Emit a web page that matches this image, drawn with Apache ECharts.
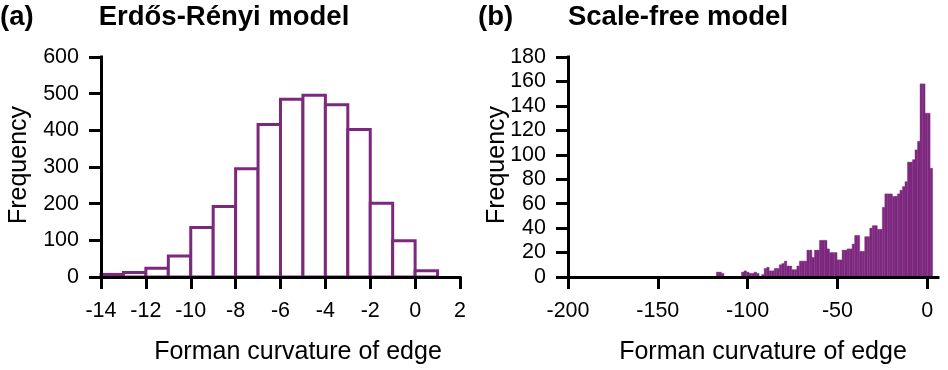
<!DOCTYPE html>
<html>
<head>
<meta charset="utf-8">
<script src="https://cdn.jsdelivr.net/npm/echarts@6/dist/echarts.min.js"></script>
<style>
  html, body { margin: 0; padding: 0; background: #fff; }
  #chart { width: 948px; height: 370px; }
</style>
</head>
<body>
<div id="chart"></div>
<script>
// (a) Erdős-Rényi model: histogram with unit-width bins
const erBinLeft = [-14, -13, -12, -11, -10, -9, -8, -7, -6, -5, -4, -3, -2, -1, 0];
const erBinWidth = 1;
const erCounts = [7, 12, 24, 57, 135, 192, 295, 416, 485, 496, 470, 402, 201, 99, 17];
const erXTicks = [-14, -12, -10, -8, -6, -4, -2, 0, 2];
const erYTicks = [0, 100, 200, 300, 400, 500, 600];

// (b) Scale-free model: histogram, bins start at sfBinStart, each sfBinWidth wide
const sfBinStart = -117.4;
const sfBinWidth = 1.4;
const sfCounts = [
  4, 4, 3, 0, 0, 0, 0, 0, 0, 0,
  4, 5, 4, 3, 3, 4, 3, 0, 2, 7,
  8, 5, 5, 7, 7, 10, 11, 13, 9, 9,
  6, 6, 9, 13, 13, 13, 22, 22, 16, 22,
  22, 30, 30, 30, 23, 20, 20, 20, 14, 14,
  22, 22, 23, 23, 27, 34, 34, 21, 21, 33,
  33, 40, 42, 42, 39, 39, 57, 68, 68, 68,
  66, 66, 68, 71, 74, 78, 94, 94, 96, 104,
  111, 158, 158, 134, 134, 89
];
const sfXTicks = [-200, -150, -100, -50, 0];
const sfYTicks = [0, 20, 40, 60, 80, 100, 120, 140, 160, 180];

const PURPLE = '#7d287f';
const FONT = '"Liberation Sans", Arial, Helvetica, sans-serif';

const erData = erBinLeft.map((l, i) => [l, l + erBinWidth, erCounts[i]]);
const sfData = sfCounts.map((c, i) => {
  const l = sfBinStart + i * sfBinWidth;
  return [l, l + sfBinWidth, c];
});

function histRender(style) {
  return function (params, api) {
    const top = api.coord([api.value(0), api.value(2)]);
    const bottom = api.coord([api.value(1), 0]);
    return {
      type: 'rect',
      shape: { x: top[0], y: top[1], width: bottom[0] - top[0], height: bottom[1] - top[1] },
      style: style
    };
  };
}

function axisCommon(ticks) {
  return {
    type: 'value',
    z: 10,
    axisLine: { show: true, onZero: false, lineStyle: { color: '#000', width: 3, cap: 'square' } },
    axisTick: { show: true, length: 12, customValues: ticks, lineStyle: { color: '#000', width: 3 } },
    axisLabel: { customValues: ticks, color: '#000', fontSize: 21.5, fontFamily: FONT },
    splitLine: { show: false }
  };
}

function xAxisOf(grid, min, max, interval, ticks) {
  const a = axisCommon(ticks);
  a.gridIndex = grid; a.min = min; a.max = max; a.interval = interval;
  a.axisLabel.margin = 23;
  return a;
}
function yAxisOf(grid, min, max, interval, ticks) {
  const a = axisCommon(ticks);
  a.gridIndex = grid; a.min = min; a.max = max; a.interval = interval;
  a.axisLabel.margin = 22;
  return a;
}

function label(text, x, y, size, bold, align, rotation) {
  return {
    type: 'text', x: x, y: y, rotation: rotation || 0, z: 20,
    style: {
      text: text, fill: '#000', align: align, verticalAlign: 'middle',
      fontSize: size, fontWeight: bold ? 'bold' : 'normal', fontFamily: FONT
    }
  };
}

const chart = echarts.init(document.getElementById('chart'), null, { renderer: 'canvas' });
chart.setOption({
  animation: false,
  backgroundColor: '#fff',
  grid: [
    { left: 101, top: 57, width: 359, height: 220 },
    { left: 568, top: 57, width: 370, height: 220 }
  ],
  xAxis: [
    xAxisOf(0, -14, 2, 2, erXTicks),
    xAxisOf(1, -200, 6, 50, sfXTicks)
  ],
  yAxis: [
    yAxisOf(0, 0, 600, 100, erYTicks),
    yAxisOf(1, 0, 180, 20, sfYTicks)
  ],
  series: [
    {
      type: 'custom', xAxisIndex: 0, yAxisIndex: 0, z: 2,
      encode: { x: [0, 1], y: 2 },
      renderItem: histRender({ fill: '#fff', stroke: PURPLE, lineWidth: 3 }),
      data: erData
    },
    {
      type: 'custom', xAxisIndex: 1, yAxisIndex: 1, z: 2,
      encode: { x: [0, 1], y: 2 },
      renderItem: histRender({ fill: PURPLE, stroke: PURPLE, lineWidth: 0.4 }),
      data: sfData
    }
  ],
  graphic: [
    label('(a)', 0, 17, 27.5, true, 'left'),
    label('Erdős-Rényi model', 224, 17, 27.5, true, 'center'),
    label('(b)', 478, 17, 27.5, true, 'left'),
    label('Scale-free model', 678, 17, 27.5, true, 'center'),
    label('Frequency', 19, 165, 25, false, 'center', Math.PI / 2),
    label('Frequency', 497, 165, 25, false, 'center', Math.PI / 2),
    label('Forman curvature of edge', 298, 352, 25, false, 'center'),
    label('Forman curvature of edge', 763, 352, 25, false, 'center')
  ]
});
</script>
</body>
</html>
